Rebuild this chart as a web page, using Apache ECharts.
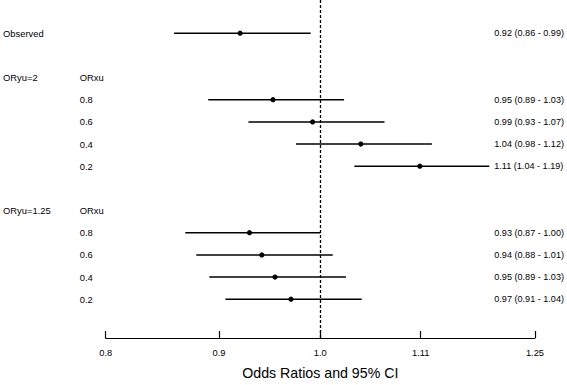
<!DOCTYPE html>
<html>
<head>
<meta charset="utf-8">
<script src="https://cdn.jsdelivr.net/npm/echarts@6/dist/echarts.min.js"></script>
<style>html,body{margin:0;padding:0;background:#fff;}#c{width:567px;height:385px;}</style>
</head>
<body>
<div id="c"></div>
<script>
// Row positions (0 = top row)
const rowIdx = [0, 3, 4, 5, 6, 9, 10, 11, 12];
// Point estimates and 95% CI (odds ratios)
const est   = [0.920, 0.952, 0.992, 1.043, 1.109, 0.929, 0.941, 0.954, 0.970];
const lower = [0.859, 0.890, 0.928, 0.975, 1.036, 0.869, 0.879, 0.891, 0.906];
const upper = [0.990, 1.025, 1.069, 1.123, 1.192, 1.000, 1.013, 1.027, 1.044];
const ciText = ['0.92 (0.86 - 0.99)', '0.95 (0.89 - 1.03)', '0.99 (0.93 - 1.07)', '1.04 (0.98 - 1.12)',
                '1.11 (1.04 - 1.19)', '0.93 (0.87 - 1.00)', '0.94 (0.88 - 1.01)', '0.95 (0.89 - 1.03)', '0.97 (0.91 - 1.04)'];
// Left label columns
const col1Rows = [0, 2, 8];
const col1Text = ['Observed', 'ORyu=2', 'ORyu=1.25'];
const col2Rows = [2, 3, 4, 5, 6, 8, 9, 10, 11, 12];
const col2Text = ['ORxu', '0.8', '0.6', '0.4', '0.2', 'ORxu', '0.8', '0.6', '0.4', '0.2'];
// X axis ticks
const xTicks = [0.8, 0.9, 1.0, 1.11, 1.25];
const xTickLabels = ['0.8', '0.9', '1.0', '1.11', '1.25'];
const xTitle = 'Odds Ratios and 95% CI';

const L = Math.log;
const FONT = 'Liberation Sans, Arial, Helvetica, sans-serif';
const tickVals = xTicks.map(L);

function lookup(rows, texts) {
  return function (v) {
    for (let i = 0; i < rows.length; i++) if (Math.abs(rows[i] - v) < 1e-6) return texts[i];
    return '';
  };
}

const yBase = {
  type: 'value', inverse: true, min: -1.5, max: 13.75,
  axisLine: { show: false, onZero: false }, axisTick: { show: false }, splitLine: { show: false }
};

const chart = echarts.init(document.getElementById('c'), null, { renderer: 'svg' });
chart.setOption({
  animation: false,
  backgroundColor: '#fff',
  grid: { left: 102.7, right: 31.3, top: 0, height: 343, containLabel: false },
  xAxis: {
    type: 'value', min: L(0.8), max: L(1.25), position: 'bottom',
    axisLine: { show: true, onZero: false, lineStyle: { color: '#000', width: 1.2 } },
    axisTick: { show: true, inside: true, length: 7, customValues: tickVals, lineStyle: { color: '#000', width: 1.2 } },
    axisLabel: {
      show: true, customValues: tickVals, margin: 10, color: '#000', fontSize: 9.3, fontFamily: FONT,
      formatter: function (v) {
        for (let i = 0; i < tickVals.length; i++) if (Math.abs(tickVals[i] - v) < 1e-9) return xTickLabels[i];
        return '';
      }
    },
    splitLine: { show: false },
    name: xTitle, nameLocation: 'middle', nameGap: 28,
    nameTextStyle: { color: '#000', fontSize: 14.2, fontFamily: FONT }
  },
  yAxis: [
    Object.assign({}, yBase, {
      position: 'left',
      axisLabel: { show: true, customValues: col1Rows, align: 'left', margin: 102.7, color: '#000', fontSize: 9.4, fontFamily: FONT,
        formatter: lookup(col1Rows, col1Text) }
    }),
    Object.assign({}, yBase, {
      position: 'left',
      axisLabel: { show: true, customValues: col2Rows, align: 'left', margin: 26, color: '#000', fontSize: 9.4, fontFamily: FONT,
        formatter: lookup(col2Rows, col2Text) }
    }),
    Object.assign({}, yBase, {
      position: 'right',
      axisLabel: { show: true, customValues: rowIdx, align: 'left', inside: true, margin: 40.7, color: '#000', fontSize: 9.1, fontFamily: FONT,
        formatter: lookup(rowIdx, ciText) }
    })
  ],
  series: [{
    type: 'custom',
    yAxisIndex: 0,
    data: rowIdx.map((r, i) => [L(lower[i]), L(upper[i]), L(est[i]), r]),
    encode: { x: [0, 1, 2], y: 3 },
    renderItem: function (params, api) {
      const y = api.value(3);
      const p1 = api.coord([api.value(0), y]);
      const p2 = api.coord([api.value(1), y]);
      const pc = api.coord([api.value(2), y]);
      return {
        type: 'group',
        children: [
          { type: 'line', shape: { x1: p1[0], y1: p1[1], x2: p2[0], y2: p2[1] }, style: { stroke: '#000', lineWidth: 1.5 } },
          { type: 'circle', shape: { cx: pc[0], cy: pc[1], r: 2.6 }, style: { fill: '#000' } }
        ]
      };
    },
    markLine: {
      silent: true, symbol: 'none', animation: false,
      label: { show: false },
      lineStyle: { color: '#000', type: [3, 2], width: 1.3 },
      data: [{ xAxis: 0 }]
    }
  }]
});
</script>
</body>
</html>
